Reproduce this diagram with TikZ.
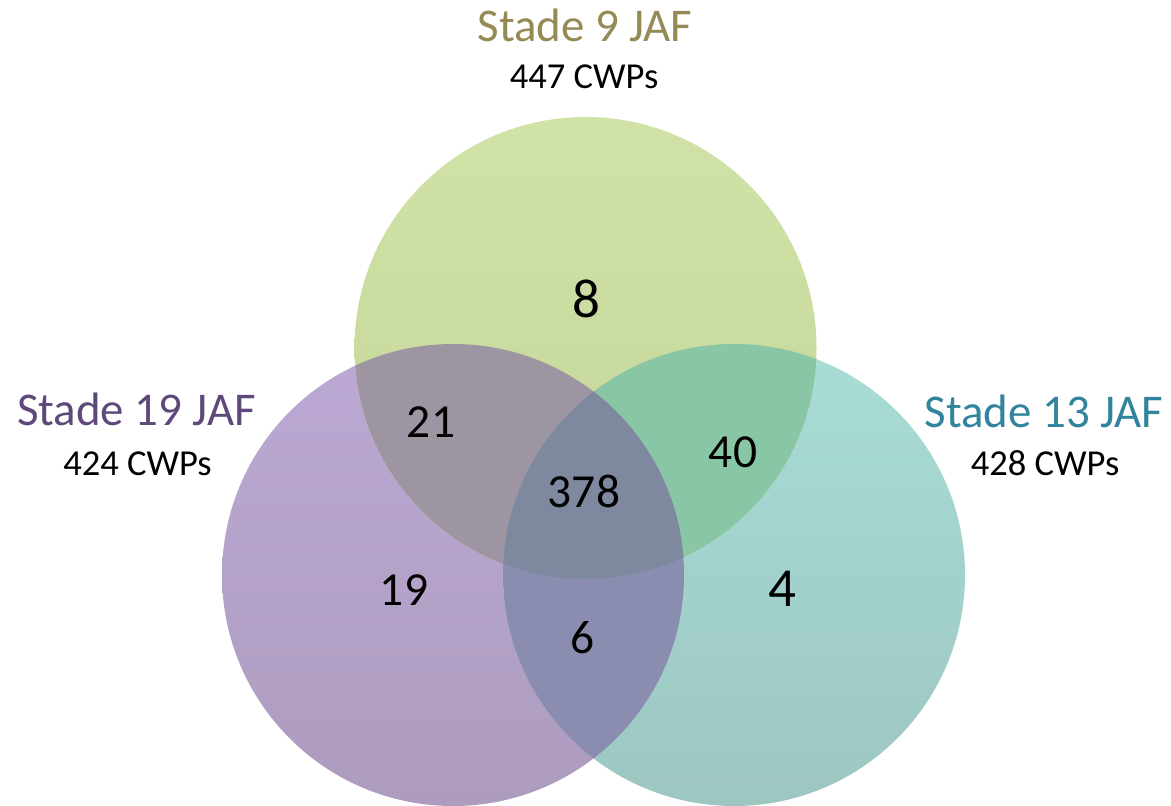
\documentclass[tikz,border=0pt]{standalone}
\usepackage{fontspec}
\setmainfont{Carlito}
\begin{document}
\begin{tikzpicture}
\definecolor{gsoloT}{HTML}{D0E2A5}
\definecolor{gsoloB}{HTML}{C5D59A}
\definecolor{psoloT}{HTML}{BBA9D4}
\definecolor{psoloB}{HTML}{AD9CBE}
\definecolor{tsoloT}{HTML}{A8DDD6}
\definecolor{tsoloB}{HTML}{9DC6C1}
\definecolor{gpcol}{HTML}{9D95A1}
\definecolor{gtcol}{HTML}{88C6A5}
\definecolor{ptcol}{HTML}{8A8DAF}
\definecolor{allcol}{HTML}{7E89A0}
\definecolor{olivelab}{HTML}{948A54}
\definecolor{purplelab}{HTML}{5F497A}
\definecolor{teallab}{HTML}{31849B}
\tikzset{
  setlabel/.style={anchor=base, inner sep=0pt, font=\fontsize{26.7}{30}\selectfont},
  countlabel/.style={anchor=base, inner sep=0pt, font=\fontsize{20.8}{24}\selectfont, text=black},
  regionnum/.style={anchor=base, inner sep=0pt, font=\fontsize{27}{30}\selectfont, text=black},
  bignum/.style={anchor=base, inner sep=0pt, font=\fontsize{31.3}{34}\selectfont, text=black}
}
\useasboundingbox (0,0) rectangle (23.42,16.1);
\def\R{4.62}
\coordinate (G) at (11.71,9.14);
\coordinate (P) at (9.06,4.60);
\coordinate (T) at (14.68,4.60);
% solo circles
\shade[top color=psoloT, bottom color=psoloB] (P) circle (\R);
\shade[top color=tsoloT, bottom color=tsoloB] (T) circle (\R);
\shade[top color=gsoloT, bottom color=gsoloB] (G) circle (\R);
% pairwise overlaps
\begin{scope}
  \clip (G) circle (\R);
  \fill[gpcol] (P) circle (\R);
\end{scope}
\begin{scope}
  \clip (G) circle (\R);
  \fill[gtcol] (T) circle (\R);
\end{scope}
\begin{scope}
  \clip (P) circle (\R);
  \fill[ptcol] (T) circle (\R);
\end{scope}
% triple overlap
\begin{scope}
  \clip (G) circle (\R);
  \clip (P) circle (\R);
  \fill[allcol] (T) circle (\R);
\end{scope}
% set labels
\node[setlabel, text=olivelab] (labG) at (11.70,15.26) {Stade 9 JAF};
\node[countlabel] (cntG) at (11.68,14.32) {447 CWPs};
\node[setlabel, text=purplelab] (labP) at (2.73,7.60) {Stade 19 JAF};
\node[countlabel] (cntP) at (2.75,6.60) {424 CWPs};
\node[setlabel, text=teallab] (labT) at (20.88,7.56) {Stade 13 JAF};
\node[countlabel] (cntT) at (20.90,6.60) {428 CWPs};
% region numbers
\node[bignum] (nG) at (11.72,9.74) {8};
\node[regionnum] (nGP) at (8.62,7.36) {21};
\node[regionnum] (nAll) at (11.68,5.96) {378};
\node[regionnum] (nGT) at (14.66,6.76) {40};
\node[regionnum] (nP) at (8.08,4.00) {19};
\node[bignum] (nT) at (15.64,3.98) {4};
\node[regionnum] (nPT) at (11.66,3.04) {6};
\end{tikzpicture}
\end{document}
